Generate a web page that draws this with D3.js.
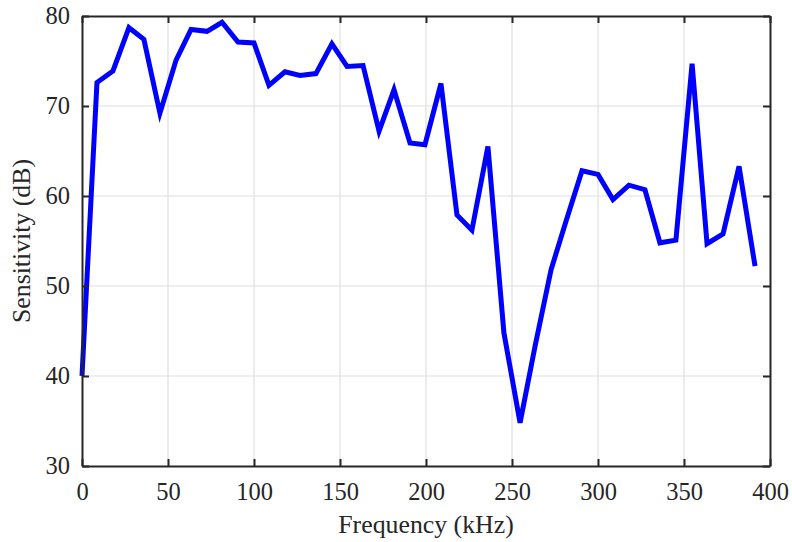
<!DOCTYPE html>
<html>
<head>
<meta charset="utf-8">
<script src="https://cdn.jsdelivr.net/npm/d3@7"></script>
<style>
  html, body { margin: 0; padding: 0; background: #fff; }
  svg { display: block; }
</style>
</head>
<body>
<svg id="chart" width="792" height="542"></svg>
<script>
// Measured sensitivity across the frequency sweep
const frequency = [0, 8.7, 18.0, 27.3, 36.0, 45.3, 54.7, 63.4, 72.7, 81.4,
  90.7, 100.0, 108.7, 118.0, 126.7, 136.0, 145.3, 154.1, 163.4, 172.7,
  181.4, 190.7, 199.4, 208.7, 218.0, 226.7, 236.0, 245.3, 254.7, 263.4,
  272.7, 281.4, 290.7, 300.0, 308.7, 318.0, 327.3, 336.0, 345.3, 354.7,
  363.4, 372.7, 382.0, 391.3];
const sensitivity = [40.0, 72.6, 73.9, 78.7, 77.4, 69.2, 75.1, 78.5, 78.3, 79.3,
  77.1, 77.0, 72.3, 73.8, 73.4, 73.6, 76.9, 74.4, 74.5, 67.2,
  71.8, 65.9, 65.7, 72.5, 57.9, 56.2, 65.5, 44.8, 34.8, 43.3,
  51.8, 57.2, 62.8, 62.4, 59.6, 61.2, 60.7, 54.8, 55.1, 74.7,
  54.7, 55.8, 63.3, 52.2];
const xTicks = [0, 50, 100, 150, 200, 250, 300, 350, 400];
const yTicks = [30, 40, 50, 60, 70, 80];

const svg = d3.select("#chart");
const margin = { left: 82, right: 22, top: 16, bottom: 76 };
const W = 792, H = 542;
const x = d3.scaleLinear().domain([0, 400]).range([margin.left, W - margin.right]);
const y = d3.scaleLinear().domain([30, 80]).range([H - margin.bottom, margin.top]);

const font = "'Liberation Serif', 'Times New Roman', serif";
const axisColor = "#262626";

// grid
const grid = svg.append("g");
grid.selectAll(".gx").data(xTicks.slice(1, -1)).join("line")
  .attr("x1", d => x(d)).attr("x2", d => x(d))
  .attr("y1", y(30)).attr("y2", y(80))
  .attr("stroke", "#dfdfdf").attr("stroke-width", 1.2);
grid.selectAll(".gy").data(yTicks.slice(1, -1)).join("line")
  .attr("x1", x(0)).attr("x2", x(400))
  .attr("y1", d => y(d)).attr("y2", d => y(d))
  .attr("stroke", "#dfdfdf").attr("stroke-width", 1.2);

// data line
const line = d3.line().x((d, i) => x(frequency[i])).y(d => y(d));
svg.append("path").datum(sensitivity)
  .attr("d", line)
  .attr("fill", "none")
  .attr("stroke", "#0000ff")
  .attr("stroke-width", 5)
  .attr("stroke-linejoin", "miter")
  .attr("stroke-linecap", "butt");

// axes (box with inward ticks on all sides)
const tickLen = 7;
const axBottom = svg.append("g").attr("transform", `translate(0,${y(30)})`)
  .call(d3.axisBottom(x).tickValues(xTicks).tickSizeInner(-tickLen).tickSizeOuter(0).tickPadding(17));
const axTop = svg.append("g").attr("transform", `translate(0,${y(80)})`)
  .call(d3.axisTop(x).tickValues(xTicks).tickSizeInner(-tickLen).tickSizeOuter(0).tickFormat(""));
const axLeft = svg.append("g").attr("transform", `translate(${x(0)},0)`)
  .call(d3.axisLeft(y).tickValues(yTicks).tickSizeInner(-tickLen).tickSizeOuter(0).tickPadding(12));
const axRight = svg.append("g").attr("transform", `translate(${x(400)},0)`)
  .call(d3.axisRight(y).tickValues(yTicks).tickSizeInner(-tickLen).tickSizeOuter(0).tickFormat(""));

[axBottom, axTop, axLeft, axRight].forEach(g => {
  g.select(".domain").attr("stroke", axisColor).attr("stroke-width", 2);
  g.selectAll(".tick line").attr("stroke", axisColor).attr("stroke-width", 2);
  g.selectAll(".tick text").attr("fill", axisColor)
    .style("font-family", font).style("font-size", "24.5px");
});

// axis titles
svg.append("text")
  .attr("x", (x(0) + x(400)) / 2).attr("y", 533)
  .attr("text-anchor", "middle")
  .attr("fill", axisColor)
  .style("font-family", font).style("font-size", "25.8px")
  .text("Frequency (kHz)");
svg.append("text")
  .attr("transform", `translate(30,${(y(30) + y(80)) / 2}) rotate(-90)`)
  .attr("text-anchor", "middle")
  .attr("fill", axisColor)
  .style("font-family", font).style("font-size", "25.8px")
  .text("Sensitivity (dB)");
</script>
</body>
</html>
